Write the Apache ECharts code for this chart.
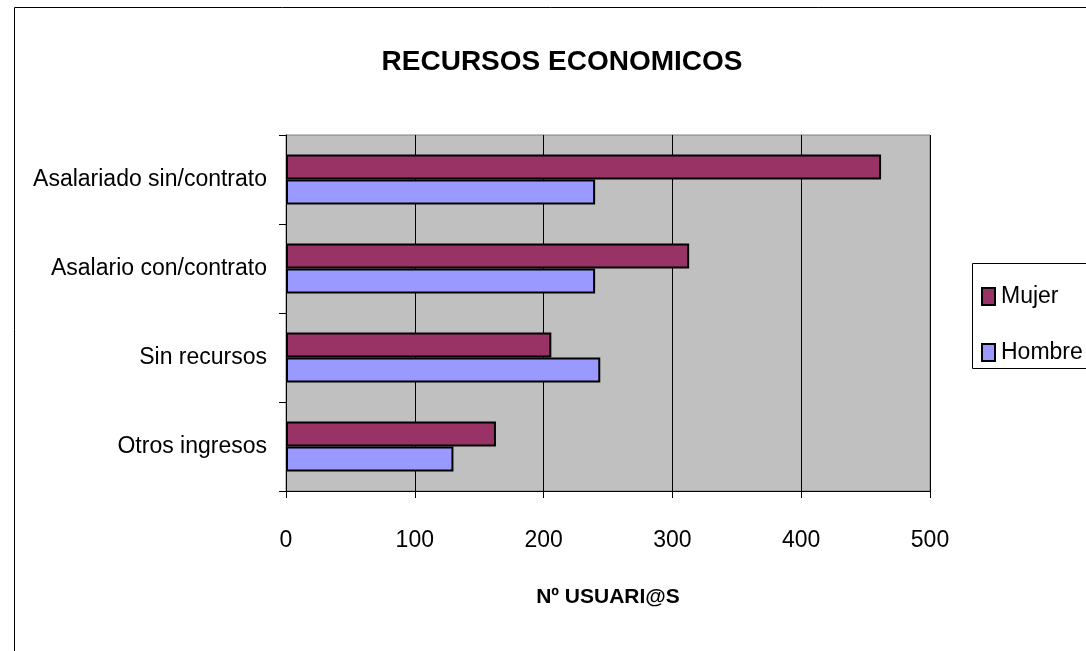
<!DOCTYPE html>
<html>
<head>
<meta charset="utf-8">
<script src="https://cdn.jsdelivr.net/npm/echarts@6/dist/echarts.min.js"></script>
<style>html,body{margin:0;padding:0;background:#fff}#c{width:1086px;height:651px}</style>
</head>
<body>
<div id="c"></div>
<script>
// Categories bottom-to-top (ECharts category y axis starts at bottom)
const categories = ['Otros ingresos', 'Sin recursos', 'Asalario con/contrato', 'Asalariado sin/contrato'];
const mujer = [163, 206, 313, 462];
const hombre = [130, 244, 240, 240];
const xTicks = [0, 100, 200, 300, 400, 500];

const FONT = '"Liberation Sans", Arial, sans-serif';
const chart = echarts.init(document.getElementById('c'), null, {renderer: 'canvas'});
chart.setOption({
  animation: false,
  backgroundColor: '#ffffff',
  title: {
    text: 'RECURSOS ECONOMICOS',
    left: 557, top: 43, textAlign: 'center',
    textStyle: {fontFamily: FONT, fontWeight: 'bold', fontSize: 28, color: '#000'}
  },
  graphic: [{
    type: 'rect', silent: true, z: -1,
    shape: {x: 14.5, y: 7.5, width: 1200, height: 800},
    style: {fill: 'none', stroke: '#000', lineWidth: 1}
  }, {
    type: 'rect', silent: true,
    shape: {x: 972.5, y: 263.5, width: 200, height: 105},
    style: {fill: '#fff', stroke: '#000', lineWidth: 1}, z: 0
  }],
  legend: {
    data: ['Mujer', 'Hombre'],
    orient: 'vertical',
    left: 976, top: 280,
    itemGap: 33,
    itemWidth: 13, itemHeight: 17,
    icon: 'rect',
    textStyle: {fontFamily: FONT, fontSize: 23, color: '#000', padding: [0, 0, 0, 1]},
    z: 10
  },
  grid: {
    left: 286, right: 156, top: 135, bottom: 160,
    show: true, backgroundColor: '#C0C0C0', borderColor: '#808080', borderWidth: 1
  },
  xAxis: {
    type: 'value', min: 0, max: 500, interval: 100,
    axisLine: {show: true, lineStyle: {color: '#000', width: 1}},
    axisTick: {show: true, length: 7, lineStyle: {color: '#000'}},
    splitLine: {show: true, lineStyle: {color: '#000', width: 1}},
    axisLabel: {fontFamily: FONT, fontSize: 23, color: '#000', margin: 38,
      formatter: v => xTicks.includes(v) ? String(v) : ''},
    name: 'Nº USUARI@S', nameLocation: 'middle', nameGap: 96,
    nameTextStyle: {fontFamily: FONT, fontWeight: 'bold', fontSize: 21, color: '#000'}
  },
  yAxis: {
    type: 'category', data: categories,
    axisLine: {show: true, lineStyle: {color: '#000', width: 1}},
    axisTick: {show: true, length: 7, lineStyle: {color: '#000'}},
    axisLabel: {fontFamily: FONT, fontSize: 23, color: '#000', margin: 19}
  },
  series: [{
    name: 'Mujer', type: 'bar', data: mujer,
    barCategoryGap: '44%', barGap: '0%',
    itemStyle: {color: '#993366', borderColor: '#000', borderWidth: 2}
  }, {
    name: 'Hombre', type: 'bar', data: hombre,
    barCategoryGap: '44%', barGap: '0%',
    itemStyle: {color: '#9999FF', borderColor: '#000', borderWidth: 2}
  }]
});
</script>
</body>
</html>
